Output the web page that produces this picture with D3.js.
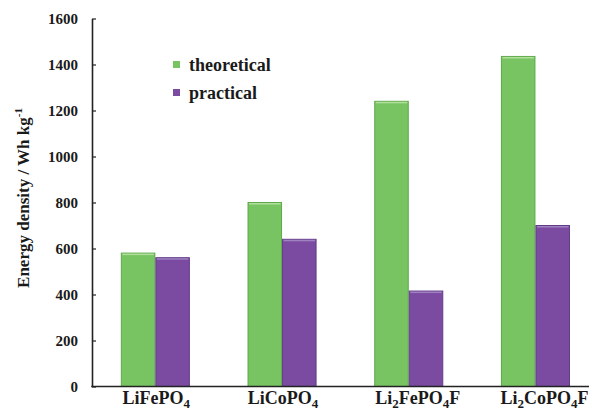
<!DOCTYPE html>
<html>
<head>
<meta charset="utf-8">
<script src="https://cdn.jsdelivr.net/npm/d3@7"></script>
<style>
  body { margin: 0; background: #fff; }
  svg text { font-family: "Liberation Serif", "DejaVu Serif", serif; font-weight: bold; fill: #1a1a1a; }
</style>
</head>
<body>
<script>
var categories = ["LiFePO4", "LiCoPO4", "Li2FePO4F", "Li2CoPO4F"];
// label pieces: [text, isSubscript]
var labelParts = [
  [["LiFePO", 0], ["4", 1]],
  [["LiCoPO", 0], ["4", 1]],
  [["Li", 0], ["2", 1], ["FePO", 0], ["4", 1], ["F", 0]],
  [["Li", 0], ["2", 1], ["CoPO", 0], ["4", 1], ["F", 0]]
];
var theoretical = [580, 800, 1240, 1435];
var practical = [560, 640, 415, 700];
var seriesNames = ["theoretical", "practical"];
var yTicks = [0, 200, 400, 600, 800, 1000, 1200, 1400, 1600];

var width = 589, height = 415;
var colors = { theoretical: "#78c462", practical: "#7a4ba0" };
var edges = { theoretical: "#5ea84a", practical: "#633c88" };
var tops = { theoretical: "#b2df9c", practical: "#9f82c2" };
var serif = "'Liberation Serif', 'DejaVu Serif', serif";

var svg = d3.select("body").append("svg")
  .attr("width", width)
  .attr("height", height);

var x0 = 92, yBase = 386.5, yTop = 18.5;

var x = d3.scaleBand()
  .domain(categories)
  .range([x0, x0 + 4 * 126.7])
  .paddingInner(0.455)
  .paddingOuter(0.2275);

var xs = d3.scaleBand()
  .domain(seriesNames)
  .range([0, x.bandwidth()]);

var y = d3.scaleLinear()
  .domain([0, 1600])
  .range([yBase, yTop]);

var rows = categories.map(function(c, i) {
  return { cat: c, theoretical: theoretical[i], practical: practical[i] };
});

var groups = svg.append("g").selectAll("g")
  .data(rows)
  .enter().append("g")
  .attr("transform", function(d) { return "translate(" + x(d.cat) + ",0)"; });

var bars = groups.selectAll("g")
  .data(function(d) { return seriesNames.map(function(s) { return { s: s, v: d[s] }; }); })
  .enter().append("g");

bars.append("rect")
  .attr("x", function(d) { return xs(d.s) + 0.5; })
  .attr("y", function(d) { return y(d.v); })
  .attr("width", xs.bandwidth() - 1)
  .attr("height", function(d) { return yBase - y(d.v); })
  .attr("fill", function(d) { return colors[d.s]; })
  .attr("stroke", function(d) { return edges[d.s]; })
  .attr("stroke-width", 1);

// light bevel at bar top
bars.append("rect")
  .attr("x", function(d) { return xs(d.s) + 1.5; })
  .attr("y", function(d) { return y(d.v) + 0.5; })
  .attr("width", xs.bandwidth() - 3)
  .attr("height", 1.5)
  .attr("fill", function(d) { return tops[d.s]; });

// y axis, ticks point inward
var yAxis = d3.axisLeft(y)
  .tickValues(yTicks)
  .tickFormat(d3.format("d"))
  .tickSizeInner(-4).tickSizeOuter(0).tickPadding(14);
var gy = svg.append("g")
  .attr("transform", "translate(" + x0 + ",0)")
  .call(yAxis)
  .attr("font-family", null)
  .attr("font-size", null);
gy.select(".domain").attr("stroke", "#222").attr("stroke-width", 1.6);
gy.selectAll(".tick line").attr("stroke", "#222").attr("stroke-width", 1.2);
gy.selectAll(".tick text")
  .style("font-family", serif)
  .style("font-size", "15px")
  .attr("fill", "#1a1a1a");

// x axis line
svg.append("line")
  .attr("x1", x0 - 0.8).attr("x2", width)
  .attr("y1", yBase).attr("y2", yBase)
  .attr("stroke", "#222").attr("stroke-width", 1.6);

// x labels with subscripts (the Li2 ones sit a bit right of centre in the original)
var xl = svg.append("g").selectAll("text")
  .data(categories)
  .enter().append("text")
  .attr("x", function(d, i) { return x(d) + x.bandwidth() / 2 + (i > 1 ? 9 : 1); })
  .attr("y", 404)
  .attr("text-anchor", "middle")
  .style("font-family", serif)
  .style("font-size", "18px");

xl.each(function(d, i) {
  var t = d3.select(this), shift = 0;
  labelParts[i].forEach(function(p) {
    var target = p[1] ? 4 : 0;
    t.append("tspan")
      .text(p[0])
      .attr("dy", target - shift)
      .style("font-size", p[1] ? "13px" : "18px");
    shift = target;
  });
});

// y title
var title = svg.append("text")
  .attr("transform", "translate(29,198) rotate(-90)")
  .attr("text-anchor", "middle")
  .style("font-family", serif)
  .style("font-size", "17px");
title.append("tspan").text("Energy density / Wh kg");
title.append("tspan").text("-1").attr("dy", -7).style("font-size", "11px");

// legend
var legend = svg.append("g").selectAll("g")
  .data(seriesNames)
  .enter().append("g")
  .attr("transform", function(d, i) { return "translate(173," + (61 + i * 28) + ")"; });

legend.append("rect")
  .attr("width", 7).attr("height", 7)
  .attr("fill", function(d) { return colors[d]; });

legend.append("text")
  .attr("x", 16).attr("y", 10)
  .style("font-family", serif)
  .style("font-size", "18px")
  .text(function(d) { return d; });
</script>
</body>
</html>
